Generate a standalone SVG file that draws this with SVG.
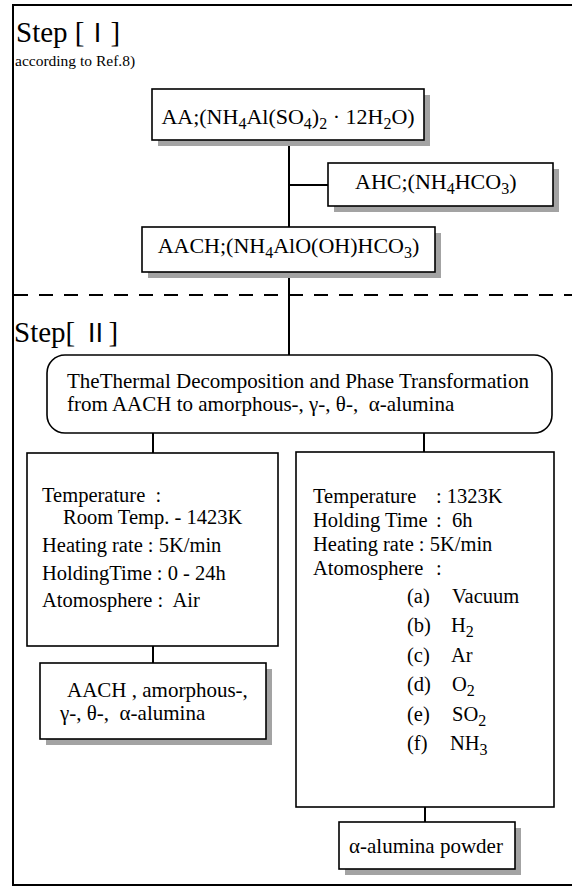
<svg xmlns="http://www.w3.org/2000/svg" width="572" height="886" viewBox="0 0 572 886">
<style>
text{font-family:"Liberation Serif","Times New Roman",serif;fill:#000;white-space:pre}
.box{fill:#fff;stroke:#000;stroke-width:1.6}
.sh{fill:#a3a3a3}
.con{stroke:#000;stroke-width:2;fill:none}
.t22{font-size:22px}
.t21{font-size:21px}
.t20{font-size:20.5px}
.rn{font-family:"Noto Sans CJK JP","DejaVu Sans",sans-serif}
</style>
<rect x="0" y="0" width="572" height="886" fill="#fff"/>
<path id="frame" d="M572,5 H13 V885 H572" fill="none" stroke="#000" stroke-width="2"/>
<line x1="14" y1="295" x2="572" y2="295" stroke="#000" stroke-width="2" stroke-dasharray="14,11"/>

<g id="step1-title">
<text x="16" y="42" font-size="29">Step [<tspan class="rn" font-size="26">Ⅰ</tspan>]</text>
<text x="15" y="66" font-size="15.5">according to Ref.8)</text>
</g>
<g id="step2-title">
<text x="14" y="342" font-size="29">Step[ <tspan class="rn" font-size="26">Ⅱ</tspan>]</text>
</g>

<g id="connectors">
<line class="con" x1="289" y1="140" x2="289" y2="227"/>
<line class="con" x1="289" y1="185" x2="328" y2="185"/>
<line class="con" x1="289" y1="272" x2="289" y2="355"/>
<line class="con" x1="153" y1="433" x2="153" y2="453"/>
<line class="con" x1="424" y1="433" x2="424" y2="452"/>
<line class="con" x1="153" y1="646" x2="153" y2="663"/>
<line class="con" x1="425" y1="807" x2="425" y2="822"/>
</g>

<g id="AA">
<rect class="sh" x="158" y="95" width="272" height="51"/>
<rect class="box" x="152" y="89" width="272" height="51"/>
<text class="t22" x="288" y="124" text-anchor="middle">AA;(NH<tspan dy="5" font-size="16">4</tspan><tspan dy="-5">Al(SO</tspan><tspan dy="5" font-size="16">4</tspan><tspan dy="-5">)</tspan><tspan dy="5" font-size="16">2</tspan><tspan dy="-5"> · 12H</tspan><tspan dy="5" font-size="16">2</tspan><tspan dy="-5">O)</tspan></text>
</g>

<g id="AHC">
<rect class="sh" x="334" y="169" width="225" height="43"/>
<rect class="box" x="328" y="163" width="225" height="43"/>
<text class="t22" x="355" y="189">AHC;(NH<tspan dy="5" font-size="16">4</tspan><tspan dy="-5">HCO</tspan><tspan dy="5" font-size="16">3</tspan><tspan dy="-5">)</tspan></text>
</g>

<g id="AACH">
<rect class="sh" x="148" y="233" width="293" height="45"/>
<rect class="box" x="142" y="227" width="293" height="45"/>
<text class="t22" x="288.5" y="253" text-anchor="middle">AACH;(NH<tspan dy="5" font-size="16">4</tspan><tspan dy="-5">AlO(OH)HCO</tspan><tspan dy="5" font-size="16">3</tspan><tspan dy="-5">)</tspan></text>
</g>

<g id="process">
<rect class="box" x="47" y="355" width="505" height="78" rx="18" ry="18" stroke-width="2"/>
<text class="t21" x="67" y="388">TheThermal Decomposition and Phase Transformation</text>
<text class="t21" x="67" y="411">from AACH to amorphous-, γ-, θ-,  α-alumina</text>
</g>

<g id="cond-left">
<rect class="box" x="27" y="453" width="251" height="193"/>
<text class="t20" x="42" y="502">Temperature  :</text>
<text class="t20" x="63" y="524">Room Temp. - 1423K</text>
<text class="t20" x="42" y="552">Heating rate : 5K/min</text>
<text class="t20" x="42" y="580">HoldingTime : 0 - 24h</text>
<text class="t20" x="42" y="607">Atomosphere :  Air</text>
</g>

<g id="result-left">
<rect class="sh" x="46" y="669" width="226" height="76"/>
<rect class="box" x="40" y="663" width="226" height="76"/>
<text class="t21" x="67" y="697">AACH , amorphous-,</text>
<text class="t21" x="60" y="720">γ-, θ-,  α-alumina</text>
</g>

<g id="cond-right">
<rect class="box" x="296" y="452" width="258" height="355"/>
<text class="t20" x="313" y="503">Temperature<tspan x="436">: 1323K</tspan></text>
<text class="t20" x="313" y="527">Holding Time<tspan x="436">:  6h</tspan></text>
<text class="t20" x="313" y="551">Heating rate : 5K/min</text>
<text class="t20" x="313" y="575">Atomosphere<tspan x="436">:</tspan></text>
<text class="t20" x="407" y="603">(a)<tspan x="452">Vacuum</tspan></text>
<text class="t20" x="407" y="632">(b)<tspan x="451">H</tspan><tspan dy="5" font-size="16">2</tspan></text>
<text class="t20" x="407" y="662">(c)<tspan x="451">Ar</tspan></text>
<text class="t20" x="407" y="691">(d)<tspan x="452">O</tspan><tspan dy="5" font-size="16">2</tspan></text>
<text class="t20" x="407" y="721">(e)<tspan x="452">SO</tspan><tspan dy="5" font-size="16">2</tspan></text>
<text class="t20" x="407" y="750">(f)<tspan x="450">NH</tspan><tspan dy="5" font-size="16">3</tspan></text>
</g>

<g id="result-right">
<rect class="sh" x="345" y="828" width="176" height="47"/>
<rect class="box" x="339" y="822" width="176" height="47"/>
<text class="t21" x="349" y="853">α-alumina powder</text>
</g>
</svg>
